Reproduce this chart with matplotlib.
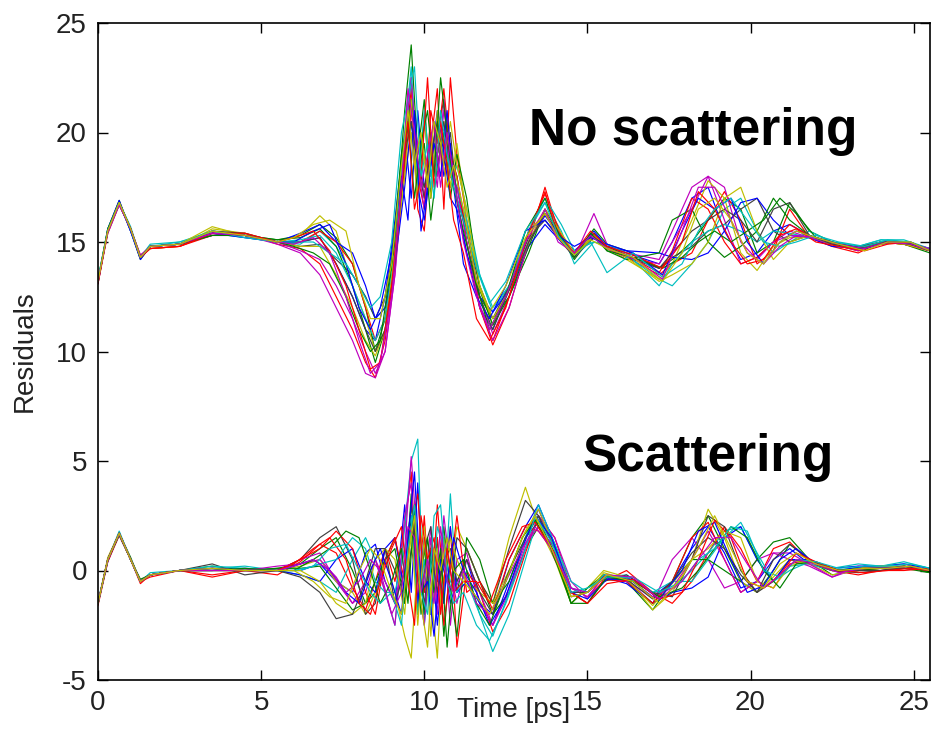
import matplotlib
matplotlib.use("Agg")
import matplotlib.pyplot as plt

plt.rcParams['font.family'] = ['Liberation Sans', 'DejaVu Sans']
plt.rcParams['axes.unicode_minus'] = False

# Time samples [ps] for each group of traces
T_up = [0, 0.3, 0.65, 1.0, 1.3, 1.6, 2.5, 3.5, 4.5, 5.5,
        6.2, 6.8, 7.3, 7.8, 8.2, 8.5, 8.8, 9.1, 9.4, 9.6,
        9.8, 10.0, 10.2, 10.4, 10.6, 10.8, 11.0, 11.3, 11.7, 12.1,
        12.6, 13.2, 13.7, 14.2, 14.6, 15.2, 15.6, 16.2, 17.2, 17.6,
        18.2, 18.7, 19.2, 19.7, 20.2, 20.7, 21.2, 21.8, 22.5, 23.3,
        24.0, 24.7, 25.5]
T_up2 = [0, 0.3, 0.65, 1.0, 1.3, 1.6, 2.5, 3.5, 4.5, 5.5,
         6.0, 6.6, 7.1, 7.6, 8.0, 8.35, 8.65, 9.0, 9.3, 9.5,
         9.7, 9.9, 10.1, 10.3, 10.5, 10.7, 10.9, 11.2, 11.6, 12.0,
         12.5, 13.1, 13.7, 14.1, 14.6, 15.1, 15.6, 16.4, 17.3, 17.9,
         18.4, 18.9, 19.4, 19.9, 20.4, 20.9, 21.4, 22.0, 22.7, 23.5,
         24.2, 24.9, 25.5]
T_low = [0, 0.3, 0.65, 1.0, 1.3, 1.6, 2.5, 3.5, 4.5, 5.5,
         6.2, 6.8, 7.3, 7.8, 8.2, 8.5, 8.8, 9.1, 9.4, 9.6,
         9.8, 10.0, 10.2, 10.4, 10.6, 10.8, 11.0, 11.3, 11.7, 12.1,
         12.6, 13.1, 13.5, 14.0, 14.5, 15.0, 15.5, 16.2, 17.0, 17.6,
         18.2, 18.7, 19.2, 19.7, 20.2, 20.7, 21.2, 21.8, 22.5, 23.3,
         24.0, 24.7, 25.5]
T_low2 = [0, 0.3, 0.65, 1.0, 1.3, 1.6, 2.5, 3.5, 4.5, 5.5,
          6.0, 6.6, 7.1, 7.6, 8.0, 8.35, 8.65, 9.0, 9.3, 9.5,
          9.7, 9.9, 10.1, 10.3, 10.5, 10.7, 10.9, 11.2, 11.6, 12.0,
          12.5, 13.0, 13.4, 13.9, 14.5, 15.0, 15.6, 16.4, 17.2, 17.9,
          18.4, 18.9, 19.4, 19.9, 20.4, 20.9, 21.4, 22.0, 22.7, 23.5,
          24.2, 24.9, 25.5]

# "No scattering" residual traces (offset around 15), sampled at T_up
upper_traces = [
    [13.2, 15.5, 16.8, 15.6, 14.3, 14.8, 14.9, 15.4, 15.3, 15.0,
     15.0, 15.2, 14.0, 12.5, 11.0, 10.5, 12.5, 16.0, 20.0, 17.0,
     21.0, 17.5, 18.5, 20.5, 18.0, 19.5, 17.0, 14.5, 12.0, 11.0,
     13.0, 15.0, 16.2, 15.2, 14.6, 15.4, 14.8, 14.5, 14.0, 15.0,
     17.0, 17.5, 15.5, 14.2, 14.5, 15.5, 15.8, 15.3, 14.9, 14.7,
     15.0, 15.0, 14.6],
    [13.3, 15.6, 16.9, 15.5, 14.2, 14.8, 14.9, 15.5, 15.3, 15.1,
     15.3, 15.8, 15.2, 14.0, 12.0, 10.0, 11.5, 15.0, 21.0, 24.0,
     19.0, 21.5, 17.0, 20.0, 21.5, 18.5, 18.0, 15.0, 12.5, 11.5,
     12.5, 14.5, 16.5, 15.3, 14.4, 15.6, 14.9, 14.6, 13.8, 14.2,
     15.0, 16.0, 17.0, 16.5, 14.5, 15.0, 16.8, 15.5, 15.0, 14.8,
     14.9, 15.0, 14.7],
    [13.1, 15.4, 16.7, 15.6, 14.4, 14.7, 14.8, 15.3, 15.4, 14.9,
     14.7, 14.0, 12.5, 11.0, 9.5, 8.8, 10.5, 14.0, 19.0, 22.0,
     16.5, 15.5, 19.5, 22.0, 16.5, 22.5, 19.0, 16.0, 12.0, 10.3,
     12.0, 15.0, 17.5, 15.0, 14.5, 15.2, 14.7, 14.3, 13.5, 14.0,
     14.5, 16.0, 17.3, 16.0, 14.0, 14.6, 16.5, 15.2, 14.8, 14.5,
     15.0, 14.9, 14.6],
    [13.2, 15.5, 16.8, 15.7, 14.3, 14.9, 15.0, 15.4, 15.2, 15.0,
     14.9, 15.5, 14.8, 13.5, 12.5, 11.5, 12.0, 15.5, 19.5, 22.5,
     18.0, 20.5, 17.5, 19.0, 20.0, 17.5, 18.5, 16.5, 13.5, 11.8,
     13.0, 15.5, 16.8, 15.5, 14.0, 15.0, 14.8, 14.4, 13.3, 13.0,
     14.0, 15.0, 16.5, 17.0, 15.5, 14.5, 15.0, 15.5, 15.0, 14.8,
     15.1, 15.0, 14.7],
    [13.2, 15.5, 16.8, 15.5, 14.3, 14.8, 14.9, 15.3, 15.3, 15.0,
     14.6, 14.2, 13.0, 11.5, 10.0, 9.0, 10.0, 13.5, 18.5, 21.0,
     19.5, 17.0, 20.0, 18.0, 21.0, 19.0, 18.0, 15.5, 12.5, 10.8,
     12.5, 15.0, 16.5, 15.3, 14.3, 16.3, 14.9, 14.5, 14.2, 15.5,
     17.5, 18.0, 16.0, 14.0, 14.3, 15.0, 15.5, 15.2, 14.9, 14.8,
     14.9, 15.0, 14.7],
    [13.3, 15.5, 16.7, 15.6, 14.3, 14.7, 14.8, 15.6, 15.4, 15.0,
     15.3, 16.2, 15.5, 13.0, 11.5, 10.0, 11.0, 14.5, 18.0, 20.0,
     17.0, 20.5, 18.0, 19.0, 20.5, 17.5, 19.5, 16.0, 13.0, 11.2,
     13.0, 15.5, 16.3, 15.2, 14.5, 15.3, 14.7, 14.2, 13.3, 14.0,
     16.0, 17.8, 17.0, 14.5, 13.7, 14.8, 15.2, 15.2, 14.9, 14.6,
     15.0, 14.9, 14.6],
    [13.2, 15.5, 16.8, 15.6, 14.3, 14.8, 14.9, 15.4, 15.3, 15.0,
     14.8, 14.9, 14.2, 13.5, 12.5, 11.5, 12.5, 15.0, 19.5, 21.5,
     18.5, 17.0, 19.5, 19.0, 20.5, 18.0, 17.5, 15.5, 13.0, 11.5,
     13.0, 15.2, 16.0, 15.0, 14.3, 15.2, 14.8, 14.3, 13.8, 14.3,
     14.8, 15.5, 15.8, 16.5, 17.0, 15.5, 15.0, 15.3, 14.9, 14.8,
     15.0, 15.0, 14.6],
    [13.1, 15.6, 16.9, 15.5, 14.2, 14.8, 14.9, 15.4, 15.2, 15.0,
     15.4, 15.8, 15.0, 14.5, 13.0, 11.5, 12.0, 14.0, 17.5, 20.5,
     17.5, 16.0, 18.5, 21.0, 19.0, 17.0, 16.5, 14.5, 12.5, 11.8,
     12.8, 14.8, 15.8, 15.0, 14.5, 15.5, 14.8, 14.6, 14.5, 14.3,
     14.2, 14.5, 15.5, 16.8, 17.0, 16.0, 15.3, 15.2, 14.8, 14.7,
     15.0, 15.0, 14.6],
    [13.2, 15.5, 16.7, 15.6, 14.3, 14.8, 14.9, 15.3, 15.3, 15.1,
     15.2, 15.6, 14.8, 13.0, 11.0, 9.5, 11.0, 14.5, 19.0, 21.5,
     18.0, 19.5, 16.0, 18.5, 20.0, 17.0, 19.0, 17.0, 12.8, 11.2,
     12.5, 14.8, 16.5, 15.2, 14.2, 15.4, 14.6, 14.2, 14.5, 16.0,
     16.5, 15.0, 14.3, 14.8, 15.5, 17.0, 16.0, 15.3, 15.0, 14.7,
     15.0, 14.9, 14.5],
    [13.2, 15.5, 16.8, 15.6, 14.3, 14.7, 14.8, 15.4, 15.3, 15.0,
     15.0, 15.5, 15.0, 14.0, 12.0, 10.5, 11.5, 14.0, 18.5, 21.0,
     18.0, 16.5, 21.0, 19.5, 22.0, 19.0, 18.0, 15.0, 12.0, 10.5,
     12.5, 15.5, 17.2, 15.3, 14.5, 15.2, 14.8, 14.4, 13.6, 14.6,
     17.0, 16.5, 15.0, 14.0, 14.3, 15.0, 15.8, 15.3, 14.9, 14.6,
     15.0, 14.9, 14.6],
    [13.3, 15.6, 16.8, 15.5, 14.3, 14.8, 15.0, 15.5, 15.3, 15.0,
     15.1, 15.3, 14.5, 13.0, 11.5, 10.5, 11.5, 14.5, 20.0, 23.0,
     17.5, 21.0, 18.0, 20.0, 19.0, 18.5, 17.5, 16.0, 13.5, 12.0,
     13.0, 15.5, 17.0, 15.8, 14.6, 15.0, 14.9, 14.5, 13.0, 14.0,
     15.0, 15.5, 15.8, 15.5, 15.0, 15.5, 15.4, 15.2, 15.0, 14.8,
     15.1, 15.1, 14.7],
    [13.2, 15.4, 16.7, 15.6, 14.4, 14.8, 14.9, 15.4, 15.3, 14.9,
     14.5, 13.5, 12.0, 10.5, 9.0, 8.8, 10.0, 13.5, 19.5, 22.5,
     18.5, 16.5, 19.5, 17.5, 21.5, 18.0, 17.5, 15.0, 12.0, 10.5,
     12.0, 15.0, 16.3, 15.1, 14.3, 15.3, 14.7, 14.3, 14.0, 15.0,
     16.5, 18.0, 17.5, 15.0, 14.2, 15.0, 15.3, 15.2, 14.9, 14.6,
     15.0, 15.0, 14.7],
    [13.2, 15.5, 16.8, 15.6, 14.3, 14.8, 14.9, 15.7, 15.3, 15.0,
     14.8, 14.8, 13.5, 12.0, 10.5, 9.8, 11.0, 14.5, 18.0, 21.5,
     17.0, 19.0, 17.0, 21.0, 18.5, 20.5, 18.5, 16.5, 13.0, 11.5,
     12.8, 15.0, 16.5, 15.4, 14.5, 15.3, 14.8, 14.3, 13.2, 13.5,
     14.0, 15.0, 17.0, 17.5, 15.5, 14.2, 15.0, 15.3, 14.9, 14.7,
     15.0, 14.9, 14.6],
    [13.2, 15.5, 16.8, 15.6, 14.3, 14.8, 14.9, 15.5, 15.4, 15.0,
     15.0, 15.2, 14.0, 12.5, 11.0, 10.0, 11.0, 14.0, 19.0, 20.5,
     18.5, 17.5, 19.0, 20.5, 18.5, 20.0, 17.0, 15.5, 12.5, 11.0,
     12.8, 15.0, 16.3, 15.2, 14.4, 15.2, 14.8, 14.4, 13.8, 14.5,
     15.5, 16.0, 16.5, 16.0, 15.0, 16.5, 16.8, 15.3, 14.9, 14.7,
     15.0, 15.0, 14.6],
]

# more "No scattering" traces, sampled at T_up2
upper_traces2 = [
    [13.2, 15.5, 16.8, 15.5, 14.3, 14.8, 14.9, 15.4, 15.3, 15.0,
     15.0, 15.5, 15.8, 14.0, 12.0, 11.0, 12.0, 14.5, 18.0, 16.0,
     21.0, 15.5, 17.5, 19.5, 18.0, 21.0, 17.5, 14.0, 12.5, 11.5,
     13.0, 15.5, 16.0, 15.3, 14.8, 15.2, 14.9, 14.5, 13.5, 15.5,
     17.0, 16.5, 17.0, 15.0, 14.0, 15.0, 15.5, 15.2, 14.9, 14.7,
     15.0, 15.0, 14.6],
    [13.2, 15.6, 16.8, 15.6, 14.3, 14.8, 14.9, 15.3, 15.3, 15.0,
     14.8, 14.5, 14.0, 12.5, 11.0, 10.0, 10.5, 14.0, 19.0, 20.5,
     17.0, 19.5, 21.0, 18.0, 22.5, 20.0, 17.5, 15.5, 13.0, 11.0,
     12.5, 15.5, 17.0, 15.4, 14.3, 15.4, 14.6, 14.3, 13.8, 14.3,
     15.0, 15.5, 15.0, 15.5, 16.0, 17.0, 16.3, 15.2, 14.9, 14.7,
     15.0, 14.9, 14.6],
    [13.1, 15.5, 16.8, 15.6, 14.3, 14.7, 14.8, 15.4, 15.4, 15.0,
     15.2, 15.5, 14.6, 13.0, 11.0, 9.2, 9.5, 13.0, 17.5, 20.5,
     16.5, 18.0, 22.5, 17.5, 20.5, 18.5, 16.0, 14.5, 11.5, 10.5,
     12.0, 15.0, 17.3, 15.2, 14.5, 15.5, 14.8, 14.4, 13.8, 15.0,
     17.3, 16.5, 15.0, 14.0, 14.2, 15.3, 15.6, 15.0, 14.8, 14.6,
     14.9, 15.0, 14.6],
    [13.3, 15.5, 16.8, 15.6, 14.3, 14.8, 14.9, 15.5, 15.2, 15.0,
     15.0, 15.0, 14.5, 14.0, 13.0, 12.0, 12.5, 15.0, 20.0, 21.5,
     23.0, 18.0, 19.5, 17.0, 21.0, 19.0, 17.5, 16.0, 13.8, 12.2,
     13.2, 15.5, 16.8, 15.3, 14.4, 15.0, 13.6, 14.5, 13.4, 14.0,
     15.5, 16.5, 17.0, 16.0, 15.0, 14.8, 15.0, 15.3, 15.0, 14.8,
     15.1, 15.0, 14.6],
    [13.2, 15.5, 16.7, 15.6, 14.3, 14.8, 14.9, 15.4, 15.3, 15.0,
     14.9, 15.2, 14.5, 12.5, 10.5, 9.0, 9.5, 12.5, 17.5, 22.0,
     20.0, 17.5, 19.0, 20.5, 17.5, 20.0, 18.0, 15.0, 12.5, 11.0,
     12.5, 15.0, 16.5, 15.0, 14.5, 15.3, 14.7, 14.3, 13.3, 15.5,
     17.5, 17.5, 16.0, 14.5, 14.0, 14.8, 15.3, 15.2, 14.9, 14.7,
     15.0, 14.9, 14.6],
    [13.2, 15.5, 16.8, 15.6, 14.3, 14.8, 14.9, 15.5, 15.3, 15.0,
     15.2, 15.8, 16.0, 15.5, 13.0, 11.5, 11.5, 14.0, 18.5, 21.0,
     18.5, 20.0, 17.5, 20.5, 19.5, 17.5, 18.5, 16.5, 13.2, 11.8,
     13.0, 15.2, 16.3, 15.2, 14.4, 15.1, 14.7, 14.3, 13.2, 14.5,
     16.5, 17.0, 16.0, 14.5, 14.0, 15.0, 15.5, 15.2, 14.9, 14.6,
     15.0, 15.0, 14.6],
]

# "Scattering" residual traces (around 0), sampled at T_low
lower_traces = [
    [-1.5, 0.4, 1.7, 0.5, -0.5, -0.2, 0.0, 0.1, 0.0, 0.0,
     0.0, 0.3, -0.5, -1.0, 0.8, 1.2, -0.5, -1.5, 3.0, -1.0,
     4.0, -2.0, 1.0, -2.5, 0.5, -1.5, -0.5, 0.5, -1.5, -2.5,
     -0.5, 1.5, 2.8, 1.0, -1.0, -1.0, -0.3, -0.3, -1.2, -0.5,
     1.0, 2.0, 0.8, -0.8, -0.5, 0.5, 1.0, 0.3, 0.0, 0.1,
     0.1, 0.2, 0.0],
    [-1.5, 0.5, 1.7, 0.6, -0.5, -0.2, 0.0, 0.2, 0.0, 0.1,
     0.3, 1.0, 1.5, 0.0, -1.5, -1.0, 0.5, 1.5, -1.0, 3.5,
     -2.0, 1.0, -1.5, 1.5, -3.0, 0.5, -1.0, 1.0, -0.5, -2.0,
     -1.0, 1.0, 2.0, 1.0, -1.5, -0.8, -0.4, -0.5, -1.8, -0.5,
     1.5, 2.5, 1.0, -0.5, -1.0, 0.0, 1.2, 0.5, -0.2, 0.0,
     0.1, 0.1, -0.1],
    [-1.6, 0.4, 1.6, 0.5, -0.6, -0.2, 0.0, -0.2, 0.0, -0.2,
     0.4, 1.2, 0.8, -0.8, -1.8, -0.5, 1.0, -0.5, 2.0, 4.5,
     -1.5, 2.5, -2.0, 3.0, -1.0, 2.0, -3.5, 0.0, -1.0, -2.8,
     -1.5, 0.8, 2.5, 1.5, -0.8, -1.2, -0.5, 0.0, -1.0, -1.5,
     -0.5, 0.8, 2.0, 1.0, -0.5, -0.8, 0.3, 0.5, 0.0, -0.2,
     0.0, 0.1, 0.0],
    [-1.4, 0.5, 1.8, 0.5, -0.5, -0.1, 0.0, 0.1, 0.2, 0.0,
     -0.2, -0.5, -1.0, 0.5, 1.5, 0.5, -1.0, -2.5, 2.0, 5.0,
     6.0, -2.5, 0.5, 1.0, -1.5, 3.5, -1.0, -0.5, -2.0, -3.7,
     -2.0, 0.5, 2.5, 1.2, -0.8, -1.0, -0.3, -0.2, -1.0, -0.8,
     0.0, 0.8, 1.8, 2.0, 0.5, -0.5, 0.2, 0.3, 0.0, 0.1,
     0.2, 0.3, 0.1],
    [-1.5, 0.5, 1.7, 0.5, -0.5, -0.2, 0.0, 0.0, 0.0, 0.0,
     0.5, 0.8, -0.5, -1.5, -1.0, 0.5, -0.5, -1.5, 1.0, 5.2,
     1.0, -1.0, 2.0, -2.0, 1.5, -2.5, 0.5, 0.8, -1.5, -2.5,
     -1.0, 1.0, 2.5, 1.5, -0.5, -1.3, -0.2, -0.4, -1.5, 0.5,
     1.5, 0.5, -0.8, -0.5, 0.5, 0.8, 0.5, 0.2, -0.3, 0.1,
     0.2, 0.1, 0.0],
    [-1.5, 0.6, 1.7, 0.5, -0.5, -0.2, 0.0, 0.1, 0.0, 0.0,
     0.2, 0.5, -0.5, -1.0, -2.0, -1.0, 0.5, -1.0, -3.0, -4.0,
     0.5, 2.0, -1.0, -4.0, 1.5, 0.0, 2.0, 1.0, -0.5, -1.5,
     1.5, 3.8, 2.0, 0.5, -1.5, -0.8, 0.0, -0.3, -1.8, -1.0,
     0.5, 2.8, 1.5, -0.5, -1.0, -0.3, 0.5, 0.3, -0.2, 0.0,
     0.1, 0.2, 0.0],
    [-1.5, 0.5, 1.6, 0.5, -0.5, -0.2, 0.0, 0.3, -0.2, 0.0,
     0.5, 1.5, 2.0, 0.5, -2.0, -1.5, 1.0, 0.0, -1.5, 1.0,
     -0.5, 1.0, 2.0, -1.0, 0.5, -1.0, 1.5, 1.0, -0.5, -1.5,
     1.0, 3.2, 2.5, 0.5, -1.0, -1.5, -0.5, -0.2, -1.0, -1.2,
     0.5, 2.5, 2.0, 0.0, -1.0, -0.5, 0.5, 0.4, 0.0, -0.1,
     0.0, 0.1, 0.0],
    [-1.5, 0.5, 1.7, 0.5, -0.5, -0.2, 0.0, 0.0, 0.1, 0.0,
     -0.2, -0.5, 0.5, 1.0, -0.5, -1.0, 1.0, 1.5, -1.0, 2.5,
     -1.5, 1.5, -2.0, 0.5, -1.5, 2.0, -1.0, -0.5, -1.5, -2.0,
     0.5, 2.0, 3.0, 1.2, -1.2, -1.0, -0.3, -0.6, -1.5, -1.0,
     -0.8, -0.3, 1.5, 2.0, 0.5, -0.5, 0.5, 0.5, 0.1, 0.2,
     0.2, 0.3, 0.1],
    [-1.5, 0.5, 1.7, 0.5, -0.4, -0.2, 0.0, 0.0, 0.0, 0.1,
     0.1, 0.2, -0.8, -1.8, -1.5, -0.5, 0.5, 1.0, -1.5, 3.0,
     1.0, -2.0, 0.5, -0.5, 2.0, -1.0, -3.0, 1.5, 0.5, -1.5,
     -0.5, 1.5, 2.2, 0.8, -1.5, -0.8, -0.2, -0.5, -1.5, -0.5,
     0.5, 0.5, 0.0, -0.5, 0.5, 1.3, 1.5, 0.5, 0.0, 0.0,
     0.1, 0.2, -0.1],
    [-1.5, 0.5, 1.7, 0.5, -0.5, -0.3, 0.0, -0.3, 0.0, 0.0,
     0.5, 1.0, 1.8, 1.0, -1.0, -2.0, 0.5, 1.5, -0.5, 2.0,
     3.5, -1.0, 0.5, 1.5, -2.5, 0.0, 2.5, -1.0, -0.5, -1.8,
     0.5, 2.0, 1.8, 0.8, -1.0, -1.5, -0.4, -0.5, -1.5, -0.5,
     1.5, 2.2, 0.5, -1.0, -0.5, 1.0, 1.3, 0.4, 0.0, 0.0,
     0.0, 0.0, 0.1],
    [-1.5, 0.5, 1.7, 0.5, -0.5, -0.2, 0.0, 0.2, 0.1, 0.0,
     0.0, 0.3, 0.5, 1.5, 1.0, -0.5, -1.0, -1.0, 1.0, 2.5,
     -2.0, 0.5, -2.0, 2.0, 1.0, -0.5, -1.0, 0.0, -2.0, -3.0,
     -1.0, 1.5, 3.0, 1.2, -0.5, -1.0, -0.2, -0.3, -1.0, -0.5,
     -0.5, 0.5, 1.5, 2.2, 0.8, -0.5, 0.0, 0.4, 0.1, 0.3,
     0.2, 0.4, 0.1],
    [-1.5, 0.5, 1.7, 0.5, -0.5, -0.2, 0.0, 0.1, 0.0, 0.2,
     0.3, 0.5, -0.3, -1.5, -0.5, 0.5, -1.0, -2.5, 2.5, 4.0,
     -0.5, -2.5, 1.5, -1.5, 2.5, 0.0, -1.5, 0.5, -1.0, -2.5,
     -0.8, 1.2, 2.0, 1.0, -0.8, -1.2, -0.3, -0.5, -1.2, -0.8,
     0.5, 1.8, 0.5, -1.0, -0.5, 0.8, 0.8, 0.3, -0.3, 0.2,
     0.1, 0.2, 0.0],
    [-1.5, 0.5, 1.7, 0.5, -0.5, -0.2, 0.0, 0.0, 0.0, 0.0,
     0.0, -0.5, -1.5, -2.0, -1.5, 0.5, 1.0, 0.5, -2.0, 2.0,
     -2.5, 1.5, -3.0, 1.0, -0.5, 1.5, 0.5, -0.5, -1.0, -1.5,
     0.0, 1.8, 2.8, 1.0, -1.2, -1.0, -0.1, -0.4, -1.6, -0.6,
     0.5, 1.0, 1.8, 1.5, -0.5, -0.8, 0.2, 0.5, 0.0, 0.1,
     0.2, 0.2, 0.0],
    [-1.5, 0.5, 1.7, 0.5, -0.5, -0.2, 0.0, 0.0, 0.0, 0.0,
     -0.3, -1.0, -2.2, -2.0, -0.5, 1.0, 1.0, -1.5, 0.0, 3.0,
     0.5, -1.5, 1.0, -1.0, 0.5, 1.0, -0.5, 0.5, -1.0, -2.0,
     0.0, 1.5, 2.5, 1.0, -1.0, -1.0, -0.3, -0.4, -1.3, -0.5,
     0.8, 1.5, 1.0, -0.2, -1.0, 0.5, 1.2, 0.5, 0.0, 0.0,
     0.0, 0.2, 0.0],
]

# more "Scattering" traces, sampled at T_low2
lower_traces2 = [
    [-1.5, 0.5, 1.7, 0.5, -0.5, -0.2, 0.0, 0.1, 0.0, 0.0,
     0.2, 0.5, 0.0, -1.0, -1.5, 0.0, 1.0, -0.5, -2.0, 1.5,
     4.5, -1.0, -0.5, -3.0, 0.5, -0.5, 1.5, 0.0, -1.0, -2.5,
     -1.2, 1.0, 2.5, 1.5, -1.0, -1.3, -0.4, -0.4, -1.3, 0.0,
     1.8, 2.2, 0.5, -1.0, -0.7, 0.5, 1.0, 0.3, 0.0, 0.2,
     0.1, 0.2, 0.0],
    [-1.5, 0.5, 1.7, 0.5, -0.5, -0.2, 0.0, 0.0, 0.1, 0.0,
     0.0, 0.5, 1.0, 1.8, 1.5, 0.0, -1.5, -0.5, 1.0, -1.5,
     3.0, -2.0, 1.5, -1.0, 1.0, -3.5, 0.0, 0.5, -1.5, -2.5,
     -0.5, 1.5, 2.3, 1.0, -1.5, -1.5, -0.3, -0.5, -1.2, -0.8,
     0.0, 1.0, 2.0, 1.5, 0.0, -0.8, 0.3, 0.4, 0.0, 0.1,
     0.1, 0.2, 0.0],
    [-1.5, 0.5, 1.7, 0.5, -0.5, -0.2, 0.0, 0.0, 0.0, 0.0,
     0.3, 1.0, 1.5, 0.5, -1.5, -2.0, -0.5, 1.0, 2.0, -0.5,
     -2.5, 2.5, 0.5, 1.5, -2.0, 1.0, -1.0, -0.5, -0.5, -1.5,
     0.5, 2.0, 2.2, 1.0, -1.0, -1.5, -0.6, -0.4, -1.3, -1.0,
     0.5, 2.3, 1.5, -0.5, -0.8, -0.2, 0.8, 0.4, 0.0, -0.1,
     0.0, 0.1, 0.0],
    [-1.5, 0.5, 1.7, 0.5, -0.5, -0.2, 0.0, 0.0, 0.0, 0.0,
     0.0, 0.2, 1.0, 1.2, 0.0, -1.0, -1.5, -1.0, -2.5, 1.0,
     3.0, -1.0, -2.0, 2.5, 3.0, -0.5, -1.5, -1.0, -2.5, -3.2,
     -1.5, 0.5, 2.5, 1.3, -1.0, -0.8, -0.3, -0.3, -1.0, -0.5,
     0.5, 1.0, 2.0, 1.8, 0.0, -0.3, 0.5, 0.4, 0.1, 0.2,
     0.2, 0.3, 0.1],
    [-1.5, 0.5, 1.7, 0.5, -0.5, -0.2, 0.0, 0.0, 0.0, 0.0,
     0.2, 0.5, 0.0, -1.0, -0.5, 0.5, 0.0, -2.0, -1.0, 2.0,
     1.5, -1.0, 0.5, -1.5, 2.0, -0.5, -1.0, 0.0, -1.5, -2.0,
     -0.5, 1.0, 2.0, 1.0, -0.8, -1.0, -0.2, -0.3, -1.3, -0.5,
     0.5, 1.5, 1.5, 0.3, -0.8, -0.2, 0.5, 0.3, -0.1, 0.1,
     0.1, 0.2, 0.0],
    [-1.5, 0.5, 1.7, 0.5, -0.5, -0.2, 0.0, 0.1, 0.0, 0.0,
     0.0, -0.5, -1.2, -1.5, 0.0, 1.0, 0.5, -1.0, -2.0, 0.5,
     2.5, -1.5, -3.5, 1.0, 0.0, 1.5, 0.0, -0.5, -1.2, -2.0,
     -0.5, 1.5, 2.5, 1.0, -1.2, -1.0, -0.2, -0.5, -1.5, -0.3,
     1.0, 2.5, 1.0, -0.5, -0.8, 0.3, 0.8, 0.3, 0.0, 0.1,
     0.1, 0.2, 0.0],
]

# MATLAB default line color cycle
colors = [(0, 0, 1), (0, 0.5, 0), (1, 0, 0), (0, 0.75, 0.75),
          (0.75, 0, 0.75), (0.75, 0.75, 0), (0.25, 0.25, 0.25)]

xticks = [0, 5, 10, 15, 20, 25]
yticks = [-5, 0, 5, 10, 15, 20, 25]

fig = plt.figure(figsize=(9.33, 7.49), dpi=100)
ax = fig.add_axes([98 / 933, 69 / 749, 832 / 933, 657 / 749])

groups = [(T_up, upper_traces), (T_up2, upper_traces2),
          (T_low, lower_traces), (T_low2, lower_traces2)]
for t, traces in groups:
    offset = 0 if traces in (upper_traces, lower_traces) else 14
    for i, tr in enumerate(traces):
        ax.plot(t, tr, color=colors[(i + offset) % 7], lw=0.85)

ax.set_xlim(0, 25.5)
ax.set_ylim(-5, 25)
ax.set_xticks(xticks)
ax.set_yticks(yticks)
ax.tick_params(direction='in', length=7, width=1.0, top=True, right=True,
               labelsize=20, labelcolor='#222222')
ax.tick_params(axis='x', pad=7)
ax.tick_params(axis='y', pad=8)
for s in ax.spines.values():
    s.set_linewidth(1.2)

ax.set_xlabel('Time [ps]', fontsize=20, color='#222222')
ax.xaxis.set_label_coords(0.5, -0.026)
ax.set_ylabel('Residuals', fontsize=20, color='#222222')
ax.yaxis.set_label_coords(-0.072, 0.5)

ax.text(13.2, 19.45, 'No scattering', fontsize=37, fontweight='bold',
        ha='left', va='baseline')
ax.text(14.86, 4.55, 'Scattering', fontsize=37, fontweight='bold',
        ha='left', va='baseline')

fig.savefig('out.png', dpi=100)
